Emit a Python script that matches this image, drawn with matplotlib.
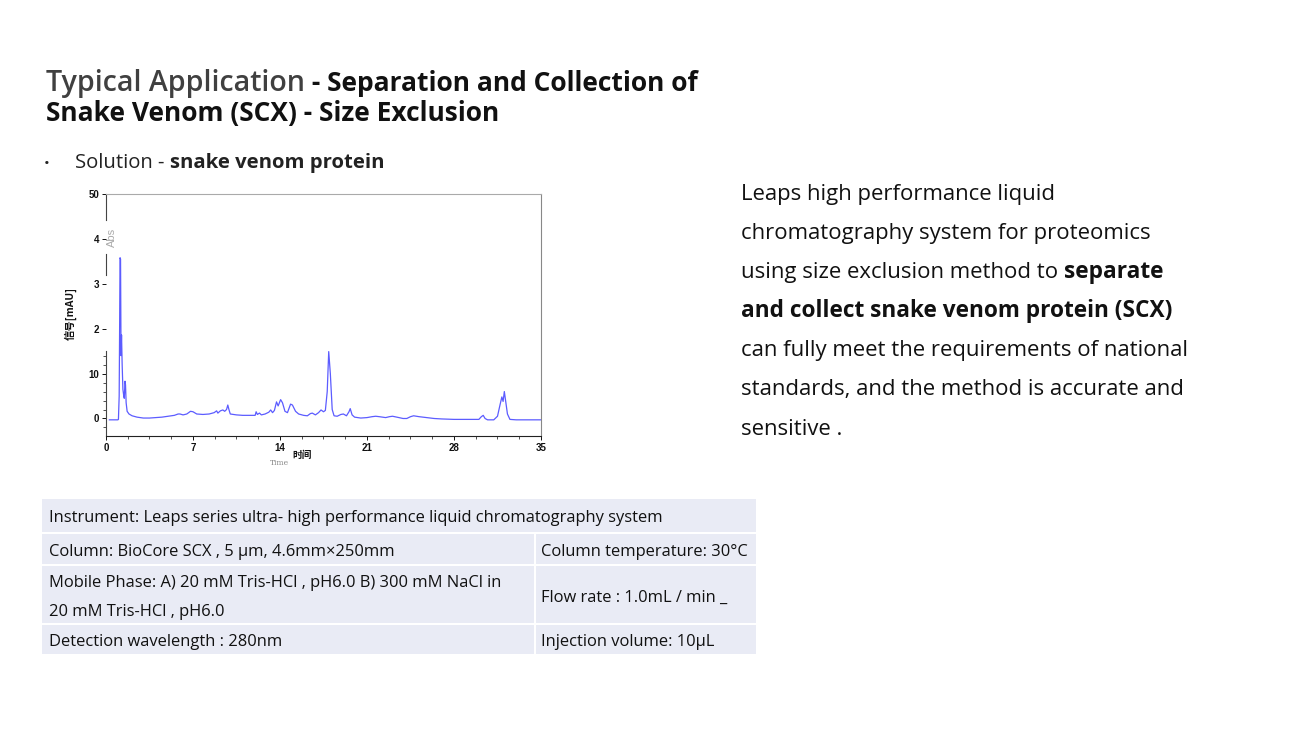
import matplotlib
matplotlib.use("Agg")
import matplotlib.pyplot as plt
from matplotlib.patches import Rectangle
from matplotlib.ticker import FixedLocator, MultipleLocator
from matplotlib.font_manager import FontProperties
import matplotlib.transforms as mtransforms

plt.rcParams["font.family"] = ["Open Sans", "DejaVu Sans"]

# chromatogram trace: time [min], signal [mAU]
time_min = [0.27, 0.95, 1.00, 1.06, 1.10, 1.13, 1.17, 1.21, 1.25, 1.30, 1.36,
            1.42, 1.47, 1.53, 1.57, 1.62, 1.70, 1.85, 2.1, 2.5, 3.0, 3.5, 4.0,
            4.5, 5.0, 5.5, 5.8, 5.95, 6.2, 6.5, 6.8, 7.0, 7.3, 7.8, 8.3, 8.7,
            8.9, 9.0, 9.2, 9.4, 9.55, 9.7, 9.8, 9.9, 10.0, 10.5, 11.0, 11.5,
            12.0, 12.08, 12.18, 12.35, 12.5, 12.8, 13.1, 13.25, 13.4, 13.55,
            13.72, 13.85, 14.05, 14.2, 14.4, 14.6, 14.85, 15.0, 15.25, 15.5,
            15.9, 16.2, 16.45, 16.6, 16.85, 17.1, 17.3, 17.5, 17.65, 17.8,
            17.92, 18.05, 18.2, 18.35, 18.6, 18.9, 19.1, 19.35, 19.55, 19.65,
            19.8, 20.0, 20.5, 21.0, 21.4, 21.7, 22.0, 22.5, 22.8, 23.05, 23.4,
            23.9, 24.2, 24.5, 24.75, 25.2, 25.8, 26.4, 27.0, 28.0, 29.0, 30.0,
            30.2, 30.35, 30.5, 30.7, 31.2, 31.5, 31.7, 31.85, 31.95, 32.05,
            32.15, 32.3, 32.5, 33.0, 34.0, 35.0]
signal_mau = [-0.3, -0.3, -0.2, 5, 22, 35.8, 35.5, 14, 18.6, 12, 6.5,
              5.2, 4.5, 8.3, 7.5, 3.5, 1.6, 1.0, 0.6, 0.3, 0.1, 0.1, 0.2,
              0.3, 0.5, 0.7, 1.0, 1.0, 0.8, 1.0, 1.6, 1.5, 1.0, 0.9, 1.0, 1.3,
              1.7, 1.2, 1.7, 1.9, 1.6, 2.0, 3.0, 1.9, 1.0, 0.8, 0.7, 0.7,
              0.7, 1.5, 0.9, 1.2, 0.8, 1.0, 1.4, 1.9, 1.3, 1.8,
              3.7, 2.8, 4.2, 3.5, 1.6, 1.3, 3.2, 3.0, 1.6, 1.0,
              0.7, 0.6, 1.1, 1.2, 0.8, 1.3, 1.9, 1.5, 1.8, 6.0,
              14.9, 10.0, 2.0, 0.6, 0.5, 0.9, 1.0, 0.6, 1.5, 2.2,
              0.8, 0.3, 0.1, 0.2, 0.4, 0.5, 0.4, 0.2, 0.4, 0.5, 0.3,
              0.0, 0.0, 0.4, 0.6, 0.4, 0.2, 0.0, -0.1, -0.2, -0.2, -0.2,
              0.4, 0.7, 0.0, -0.3, -0.3, 0.5, 3.0, 4.8, 3.8, 6.0,
              4.0, 1.0, -0.2, -0.3, -0.3, -0.3]

x_ticks = [0, 7, 14, 21, 28, 35]
y_ticks = [0, 10, 20, 30, 40, 50]
y_tick_labels = ["0", "10", "2", "3", "4", "50"]

title_parts = [("Typical Application", "semibold", "#404040", 20.6),
               (" - Separation and Collection of", "bold", "#111111", 19)]
title_line2 = "Snake Venom (SCX) - Size Exclusion"

paragraph = [
    [("Leaps high performance liquid", "normal")],
    [("chromatography system for proteomics", "normal")],
    [("using size exclusion method to ", "normal"), ("separate", "bold", "#111111", 16.3)],
    [("and collect snake venom protein (SCX)", "bold", "#111111", 16.3)],
    [("can fully meet the requirements of national", "normal")],
    [("standards, and the method is accurate and", "normal")],
    [("sensitive .", "normal")],
]

table_left = ["Instrument: Leaps series ultra- high performance liquid chromatography system",
              "Column: BioCore SCX , 5 μm, 4.6mm×250mm",
              "Mobile Phase: A) 20 mM Tris-HCl , pH6.0 B) 300 mM NaCl in\n20 mM Tris-HCl , pH6.0",
              "Detection wavelength : 280nm"]
table_right = ["", "Column temperature: 30°C", "Flow rate : 1.0mL / min _",
               "Injection volume: 10μL"]

W, H = 1300, 731
fig = plt.figure(figsize=(W / 100, H / 100), dpi=100)
fig.patch.set_facecolor("white")

# page layer in pixel coordinates
bg = fig.add_axes([0, 0, 1, 1], zorder=0)
bg.set_xlim(0, W)
bg.set_ylim(H, 0)
bg.axis("off")
renderer = fig.canvas.get_renderer()


def run(x, y, parts, size, color="#111111"):
    # write text pieces of different weights one after another
    for txt, weight, *rest in parts:
        c = rest[0] if rest else color
        s = rest[1] if len(rest) > 1 else size
        t = bg.text(x, y, txt, fontsize=s, fontweight=weight, color=c,
                    va="baseline", ha="left")
        bb = t.get_window_extent(renderer=renderer)
        x += bb.width


run(46, 91, title_parts, 20)
bg.text(46, 121, title_line2, fontsize=19, fontweight="bold",
        color="#111111", va="baseline")

bg.text(44, 168, "•", fontsize=11, color="#222222", va="baseline")
run(75, 168, [("Solution - ", "normal"), ("snake venom protein", "bold")],
    14.6, color="#222222")

for i, line in enumerate(paragraph):
    run(741, 200 + i * 39.1, line, 15.9, color="#111111")

# parameters table
rows_y = [(499, 532), (534, 564), (566, 623), (625, 654)]
split_x = 535
for i, (y0, y1) in enumerate(rows_y):
    if table_right[i]:
        bg.add_patch(Rectangle((42, y0), split_x - 42 - 1, y1 - y0,
                               facecolor="#e9ebf5", edgecolor="none"))
        bg.add_patch(Rectangle((split_x + 1, y0), 756 - split_x - 1, y1 - y0,
                               facecolor="#e9ebf5", edgecolor="none"))
    else:
        bg.add_patch(Rectangle((42, y0), 756 - 42, y1 - y0,
                               facecolor="#e9ebf5", edgecolor="none"))
    yc = (y0 + y1) / 2 + 3
    bg.text(49, yc, table_left[i], fontsize=11.9, color="#111111",
            va="center", ha="left", linespacing=2.05)
    if table_right[i]:
        bg.text(541, yc, table_right[i], fontsize=11.9, color="#111111",
                va="center", ha="left")

# chromatogram
ax = fig.add_axes([106 / W, 1 - 436 / H, 435 / W, 242 / H], zorder=2)
ax.patch.set_alpha(0)
ax.plot(time_min, signal_mau, color="#5c5cff", lw=0.9)
ax.set_xlim(0, 35)
ax.set_ylim(-3.9, 50)
ax.set_xticks(x_ticks)
ax.xaxis.set_minor_locator(MultipleLocator(1.75))
ax.set_yticks(y_ticks)
ax.set_yticklabels(y_tick_labels)
ax.yaxis.set_minor_locator(FixedLocator([-2, 2, 4, 6, 8, 12, 14]))
tick_fp = FontProperties(family="Liberation Sans", weight="bold", size=7)
for lab in ax.get_xticklabels() + ax.get_yticklabels():
    lab.set_fontproperties(tick_fp)
ax.tick_params(axis="both", which="major", length=3, width=0.7, pad=2,
               colors="#111111")
ax.tick_params(axis="both", which="minor", length=2, width=0.6,
               colors="#333333")
ax.spines["top"].set_color("#aaaaaa")
ax.spines["top"].set_linewidth(0.8)
ax.spines["right"].set_color("#888888")
ax.spines["right"].set_linewidth(0.8)
ax.spines["bottom"].set_color("#222222")
ax.spines["bottom"].set_linewidth(0.8)
ax.spines["left"].set_visible(False)
blend = mtransforms.blended_transform_factory(ax.transAxes, ax.transData)
for lo, hi in [(44.2, 50), (31.9, 36.7), (-3.9, 15.1)]:
    ax.plot([0, 0], [lo, hi], color="#444444", lw=0.8, transform=blend,
            clip_on=False)

bg.text(112, 237, "Abs", fontsize=8, color="#aaaaaa", rotation=90,
        ha="center", va="center", family="Liberation Sans")
bg.text(71, 313, "信号[mAU]", fontsize=7.5, fontweight="bold", color="#111111",
        rotation=90, ha="center", va="center",
        family=["Noto Sans CJK SC", "DejaVu Sans"])
bg.text(302, 455, "时间", fontsize=7, fontweight="bold", color="#111111",
        ha="center", va="center", family=["Noto Sans CJK SC", "DejaVu Sans"])
bg.text(280, 463, "Time", fontsize=5.5, color="#888888", ha="center",
        va="center", family="DejaVu Serif")

fig.savefig("out.png", dpi=100, facecolor="white")
